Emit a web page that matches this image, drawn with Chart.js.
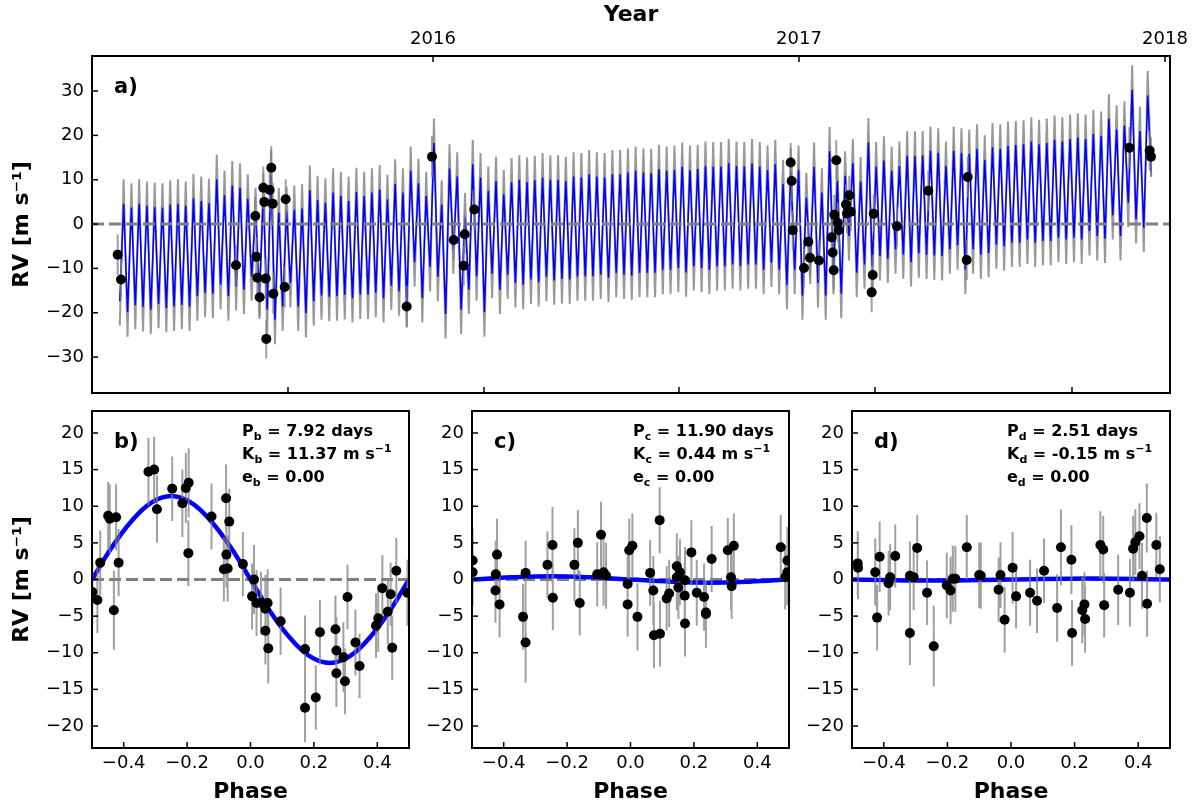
<!DOCTYPE html>
<html>
<head>
<meta charset="utf-8">
<script src="https://cdn.jsdelivr.net/npm/chart.js@4.4.0/dist/chart.umd.min.js"></script>
<style>
  body { margin: 0; background: #fff; }
  #wrap { position: relative; width: 1199px; height: 805px; background: #fff; }
  canvas { position: absolute; }
</style>
</head>
<body>
<div id="wrap">
  <canvas id="cA" width="1199" height="400" style="left:0px;top:0px"></canvas>
  <canvas id="cB" width="420" height="405" style="left:0px;top:400px"></canvas>
  <canvas id="cC" width="380" height="405" style="left:420px;top:400px"></canvas>
  <canvas id="cD" width="399" height="405" style="left:800px;top:400px"></canvas>
</div>
<script>
// ---- panel a) : RV time series (x in decimal years) ----
const yearMin = 2015.0683, yearMax = 2018.0137;
const yearTicks = [2016, 2017, 2018];
const timeTicks = [2015.6038, 2016.1393, 2016.6721, 2017.2077, 2017.7459]; // unlabeled bottom ticks
const rvTicksA = [-30, -20, -10, 0, 10, 20, 30];

const obsYear = [2015.1385, 2015.1475, 2015.4617, 2015.5145, 2015.5172, 2015.5200, 2015.5265, 2015.5364, 2015.5391, 2015.5429,
  2015.5445, 2015.5538, 2015.5582, 2015.5620, 2015.5637, 2015.5948, 2015.5975, 2015.9281, 2015.9973, 2016.0566,
  2016.0839, 2016.0866, 2016.1128, 2016.9773, 2016.9800, 2016.9828, 2017.0137, 2017.0254, 2017.0300, 2017.0546,
  2017.0893, 2017.0920, 2017.0948, 2017.0964, 2017.1019, 2017.1057, 2017.1085, 2017.1284, 2017.1311, 2017.1375,
  2017.1413, 2017.1986, 2017.2014, 2017.2041, 2017.2678, 2017.3533, 2017.4582, 2017.4609, 2017.9025, 2017.9582,
  2017.9617];
const obsRV = [-6.9, -12.5, -9.3, 1.8, -7.4, -12.1, -16.5, 8.2, 5.0, -12.3,
  -25.9, 7.7, 12.7, 4.6, -15.7, -14.2, 5.6, -18.6, 15.2, -3.6,
  -9.4, -2.3, 3.3, 13.9, 9.7, -1.4, -9.9, -4.0, -7.6, -8.2,
  -3.0, -6.4, -10.4, 2.1, 14.4, 0.3, -1.4, 4.4, 2.4, 6.5,
  2.8, -15.4, -11.5, 2.3, -0.5, 7.5, -8.1, 10.6, 17.2, 16.6,
  15.2];
const obsErr = [4.6, 4.4, 4.5, 4.3, 4.5, 4.6, 4.4, 4.8, 4.5, 4.4,
  4.4, 4.7, 4.9, 4.6, 4.5, 4.6, 4.5, 4.7, 4.6, 4.3,
  4.5, 4.4, 4.5, 4.4, 4.6, 4.5, 4.4, 4.5, 4.6, 4.5,
  4.4, 4.5, 4.6, 4.5, 4.5, 4.4, 4.5, 4.6, 4.5, 4.4,
  4.5, 4.5, 4.6, 4.4, 4.5, 4.6, 4.5, 4.6, 4.7, 4.5,
  4.4];

// model curve as drawn: sampled maxima / minima, evenly spaced in time
const modelStart = 2015.1548;   // first maximum
const modelStep = 0.021196;     // spacing between maxima (yr)
const modelPeaks = [4.6, 3.7, 4.6, 4.1, 3.8, 3.7, 4.4, 4.6, 4.1, 5.8, 5.2, 4.7, 10.1, 6.5, 8.7, 8.2, 5.7, 2.6, 6.0, 11.2,
  2.6, 2.9, 3.2, 3.5, 7.7, 5.4, 4.8, 7.1, 6.3, 5.2, 7.2,
  6.3, 7.1, 7.8, 5.6, 9.1, 7.1, 12.0, 9.2, 6.3, 18.3, 4.4, 12.5, 10.7, 1.5, 13.5, 10.5, 7.5, 9.7, 6.7, 9.4,
  10.0, 9.5, 9.9, 10.5, 10.0, 10.0, 9.7, 10.7, 10.5, 11.2, 10.7, 10.5, 11.2, 11.2, 11.6,
  12.0, 11.6, 11.5, 12.4, 12.0, 12.2, 12.9, 12.2, 12.4, 13.1, 13.0, 13.0, 13.7, 13.1, 13.0, 13.7, 13.0, 12.2,
  13.5, 9.0, 11.6, 12.2, 6.0, 12.9, 7.1, 16.4, 9.7, 10.9, 13.7, 9.6, 18.4, 13.0, 14.3, 12.0, 13.1,
  15.4, 15.4, 15.5, 16.5, 16.1, 13.1, 16.5, 16.1, 15.8, 17.0, 14.5, 17.3, 17.0, 17.6, 17.8, 18.0, 18.6, 18.0,
  18.3, 19.0, 18.6, 19.2, 19.5, 19.2, 20.3, 19.9, 23.8, 21.3, 22.2, 30.3, 21.0, 29.0];
const modelTroughs = [-17.4, -19.9, -18.3, -18.7, -19.3, -18.0, -18.9, -18.6, -18.2, -18.6, -16.3, -15.5, -15.7, -13.7,
  -16.3, -14.0, -14.8, -11.8, -15.9, -19.3, -21.6, -18.6, -13.3, -18.6, -20.1, -17.4, -16.1, -16.4, -16.3, -16.0, -16.7, -15.9,
  -15.9, -15.5, -16.7, -13.9, -15.2, -17.8, -8.6, -16.7, -9.7, -11.9, -20.3, -5.7, -19.3, -14.8, -11.8, -19.9, -11.2,
  -14.8, -11.4, -13.3, -13.7, -12.5, -13.1, -11.9, -12.7, -12.4, -12.5, -11.8, -11.8, -11.8, -11.4, -12.1, -11.0, -11.4, -11.6,
  -11.0, -11.0, -11.0, -10.3, -10.3, -9.9, -10.9, -9.5, -9.9, -10.3, -9.5, -9.5, -9.1, -9.5, -9.1, -9.1, -10.3,
  -8.7, -10.3, -13.7, -10.3, -16.1, -8.0, -13.3, -16.1, -10.3, -15.7, -2.7, -11.0, -9.1, -9.5, -7.2, -7.8, -5.7,
  -6.9, -8.6, -6.6, -6.9, -7.1, -7.2, -5.7, -4.8, -10.3, -5.7, -6.9, -6.5, -4.6, -5.0, -4.2, -4.2, -3.5, -4.2,
  -3.8, -3.8, -3.1, -3.5, -3.1, -3.5, -1.6, -2.7, -3.3, 2.0, -2.7, 4.8, 1.1, -0.8];
const modelEnd = { x: 2017.9626, y: 11.6 };
const modelErr = 5.5;  // extent of grey uncertainty at the extrema

// ---- panels b) c) d) : phase folded ----
const phaseTicks = [-0.4, -0.2, 0, 0.2, 0.4];
const rvTicksP = [-20, -15, -10, -5, 0, 5, 10, 15, 20];

const bPhase = [-0.499, -0.483, -0.474, -0.449, -0.444, -0.431, -0.424, -0.416, -0.322, -0.304,
  -0.295, -0.247, -0.215, -0.204, -0.195, -0.196, -0.123, -0.084, -0.077, -0.076,
  -0.072, -0.067, -0.024, 0.011, 0.005, 0.019, 0.033, 0.047, 0.054, 0.047,
  0.056, 0.095, 0.172, 0.172, 0.206, 0.219, 0.268, 0.271, 0.271, 0.293,
  0.298, 0.306, 0.331, 0.344, 0.396, 0.403, 0.416, 0.433, 0.442, 0.447,
  0.460, 0.495];
const bRV = [-1.7, -2.8, 2.3, 8.7, 8.3, -4.2, 8.5, 2.3, 14.7, 15.0,
  9.6, 12.4, 10.4, 12.5, 13.2, 3.6, 8.6, 1.4, 11.1, 3.4,
  1.5, 7.9, 2.1, 0.0, -2.3, -3.2, -3.2, -4.0, -3.2, -7.0,
  -9.4, -5.7, -9.5, -17.5, -16.1, -7.2, -6.8, -9.7, -12.8, -10.6,
  -13.9, -2.4, -8.6, -11.8, -6.3, -5.3, -1.2, -4.4, -2.0, -9.3,
  1.2, -1.8];
const bErr = [4.4, 4.5, 4.4, 4.6, 4.7, 5.4, 4.5, 4.6, 4.6, 4.5,
  4.6, 4.4, 4.6, 4.8, 4.7, 4.5, 4.5, 4.4, 4.6, 4.5,
  4.5, 4.5, 4.4, 4.7, 4.5, 4.5, 4.3, 4.6, 4.6, 4.6,
  4.8, 4.6, 4.6, 4.7, 4.4, 4.4, 4.6, 4.6, 4.6, 4.8,
  4.5, 4.4, 4.5, 4.4, 4.4, 4.6, 4.5, 4.4, 4.3, 4.4,
  4.5, 4.5];
const bCurveX = [-0.5, -0.4375, -0.375, -0.3125, -0.25, -0.1875, -0.125, -0.0625, 0, 0.0625, 0.125, 0.1875, 0.25, 0.3125, 0.375, 0.4375, 0.5];
const bCurveY = [0, 4.4, 8.0, 10.5, 11.4, 10.5, 8.0, 4.4, 0, -4.4, -8.0, -10.5, -11.4, -10.5, -8.0, -4.4, 0];

const cPhase = [-0.498, -0.498, -0.425, -0.421, -0.426, -0.413, -0.339, -0.331, -0.331, -0.262,
  -0.246, -0.245, -0.177, -0.166, -0.160, -0.105, -0.093, -0.085, -0.077, -0.009,
  -0.009, -0.004, 0.006, 0.022, 0.062, 0.072, 0.074, 0.092, 0.093, 0.114,
  0.122, 0.146, 0.146, 0.151, 0.156, 0.172, 0.171, 0.172, 0.192, 0.209,
  0.232, 0.238, 0.238, 0.256, 0.307, 0.317, 0.326, 0.319, 0.474, 0.488,
  0.495, 0.495];
const cRV = [2.6, 1.0, 0.7, 3.4, -1.5, -3.4, -5.1, -8.6, 0.9, 2.0,
  4.7, -2.5, 2.0, 5.0, -3.2, 0.7, 6.1, 1.0, 0.5, -0.6,
  -3.4, 4.0, 4.6, -5.1, 0.9, -1.5, -7.6, 8.1, -7.4, -2.6,
  -1.9, 1.8, 0.3, -1.1, 1.0, -0.1, -2.2, -6.0, 3.7, -1.8,
  -2.4, -4.5, -4.7, 2.8, 4.0, 0.3, 4.6, -0.9, 4.4, 0.3,
  2.6, 1.0];
const cErr = [4.5, 4.5, 4.6, 4.9, 4.4, 4.5, 4.5, 5.5, 4.4, 4.6,
  5.2, 4.4, 5.0, 4.5, 4.4, 4.4, 4.5, 4.6, 4.5, 4.4,
  4.4, 4.3, 4.4, 4.6, 4.5, 4.7, 4.5, 4.5, 4.5, 4.4,
  4.6, 4.5, 4.5, 4.3, 4.5, 4.5, 4.6, 4.5, 4.4, 4.5,
  4.6, 4.3, 4.6, 4.5, 4.4, 4.5, 4.4, 4.5, 4.4, 4.4,
  4.6, 4.5];
const cCurveX = [-0.5, -0.375, -0.25, -0.125, 0, 0.125, 0.25, 0.375, 0.5];
const cCurveY = [0, 0.3, 0.44, 0.3, 0, -0.3, -0.44, -0.3, 0];

const dPhase = [-0.482, -0.481, -0.427, -0.421, -0.413, -0.385, -0.380, -0.364, -0.318, -0.318,
  -0.306, -0.295, -0.264, -0.243, -0.202, -0.190, -0.183, -0.175, -0.139, -0.100,
  -0.095, -0.039, -0.033, -0.020, 0.005, 0.016, 0.060, 0.082, 0.104, 0.145,
  0.157, 0.190, 0.192, 0.224, 0.231, 0.233, 0.281, 0.290, 0.293, 0.337,
  0.374, 0.384, 0.391, 0.404, 0.412, 0.427, 0.428, 0.457, 0.468];
const dRV = [2.2, 1.6, 1.0, -5.2, 3.1, -0.5, 0.3, 3.2, 0.5, -7.3,
  0.3, 4.3, -1.8, -9.1, -0.8, -1.5, 0.1, 0.1, 4.4, 0.6,
  0.5, -1.4, 0.6, -5.5, 1.6, -2.3, -1.8, -2.9, 1.2, -3.9,
  4.4, 2.7, -7.3, -4.2, -3.4, -5.4, 4.7, 4.1, -3.5, -1.4,
  -1.8, 4.2, 5.1, 5.9, 0.5, 8.4, -3.3, 4.7, 1.4];
const dErr = [4.4, 4.3, 4.6, 4.5, 4.8, 4.4, 4.5, 4.3, 4.7, 4.4,
  4.5, 4.5, 4.4, 5.5, 4.5, 4.6, 4.5, 4.5, 4.4, 4.5,
  4.5, 4.4, 4.5, 4.5, 4.9, 4.4, 4.5, 4.4, 4.4, 4.6,
  5.2, 4.7, 4.5, 4.5, 4.4, 4.6, 4.6, 4.6, 4.4, 4.8,
  4.6, 4.5, 4.5, 4.5, 4.5, 4.7, 4.5, 4.4, 4.5];
const dCurveX = [-0.5, -0.25, 0, 0.25, 0.5];
const dCurveY = [0, -0.15, 0, 0.15, 0];

// ---------------------------------------------------------------
Chart.defaults.font.family = "'DejaVu Sans', sans-serif";
Chart.defaults.font.size = 18;
Chart.defaults.color = '#000';
Chart.defaults.animation = false;
Chart.defaults.plugins.legend.display = false;
Chart.defaults.plugins.tooltip.enabled = false;

const MINUS = '\u2212';
const fmtInt = v => (v < 0 ? MINUS : '') + Math.abs(v);
const fmtPhase = v => (v < 0 ? MINUS : '') + Math.abs(v).toFixed(1);
const yTitle = 'RV [m s\u207B\u00B9]';
const errGrey = 'rgba(128,128,128,0.75)';

const pts = (xs, ys) => xs.map((x, i) => ({ x, y: ys[i] }));

// vertical error bars as broken line segments
function errSegments(xs, ys, es) {
  const out = [];
  xs.forEach((x, i) => {
    out.push({ x, y: ys[i] - es[i] }, { x, y: ys[i] + es[i] }, { x, y: null });
  });
  return out;
}

// frame and inward tick marks, matplotlib style
const frame = ids => ({
  id: 'frame',
  afterDatasetsDraw(chart) {
    const { ctx, chartArea: a, scales } = chart;
    ctx.save();
    ctx.strokeStyle = '#000';
    ctx.lineWidth = 1.5;
    ids.forEach(id => {
      const s = scales[id];
      s.ticks.forEach(t => {
        const p = s.getPixelForValue(t.value);
        ctx.beginPath();
        if (s.isHorizontal()) {
          const top = s.position === 'top';
          const y0 = top ? a.top : a.bottom;
          ctx.moveTo(p, y0);
          ctx.lineTo(p, y0 + (top ? 6 : -6));
        } else {
          ctx.moveTo(a.left, p);
          ctx.lineTo(a.left + 6, p);
        }
        ctx.stroke();
      });
    });
    ctx.lineWidth = 2;
    ctx.strokeRect(a.left, a.top, a.width, a.height);
    ctx.restore();
  }
});

// panel letter + parameter text (with sub/superscripts)
const panelText = (label, lines, dx) => ({
  id: 'panelText',
  afterDraw(chart) {
    const { ctx, chartArea: a } = chart;
    ctx.save();
    ctx.fillStyle = '#000';
    ctx.textBaseline = 'middle';
    ctx.textAlign = 'left';
    ctx.font = "bold 21px 'DejaVu Sans'";
    ctx.fillText(label, a.left + 22, a.top + 32);
    lines.forEach((parts, k) => {
      let x = a.left + dx;
      const y = a.top + 21 + k * 23;
      parts.forEach(([t, s]) => {
        ctx.font = s === 'n' ? "bold 16px 'DejaVu Sans'" : "bold 11px 'DejaVu Sans'";
        const dy = s === 'sub' ? 5 : (s === 'sup' ? -6 : 0);
        ctx.fillText(t, x, y + dy);
        x += ctx.measureText(t).width;
      });
    });
    ctx.restore();
  }
});

const fixTicks = vals => s => { s.ticks = vals.map(v => ({ value: v })); };
// fixed axis thickness, no extra label overflow padding
const fixV = w => s => { s.width = w; s.paddingTop = 0; s.paddingBottom = 0; };
const fixH = h => s => { s.height = h; s.paddingLeft = 0; s.paddingRight = 0; };

// ---- panel a ----
const modelPts = [];
const modelGrey = [];
modelPeaks.forEach((p, i) => {
  const tT = modelStart + (i - 0.5) * modelStep;
  const tP = modelStart + i * modelStep;
  modelPts.push({ x: tT, y: modelTroughs[i] }, { x: tP, y: p });
  modelGrey.push({ x: tT, y: modelTroughs[i] - modelErr }, { x: tP, y: p + modelErr });
});
modelPts.push(modelEnd);
modelGrey.push({ x: modelEnd.x, y: modelEnd.y - 1 });

new Chart(document.getElementById('cA'), {
  type: 'scatter',
  data: {
    datasets: [
      { data: pts(obsYear, obsRV), pointRadius: 5, pointBackgroundColor: '#000', pointBorderWidth: 0, order: 0, clip: 0 },
      { data: errSegments(obsYear, obsRV, obsErr), showLine: true, pointRadius: 0, borderColor: errGrey, borderWidth: 2, order: 1, clip: 0 },
      { data: [{ x: yearMin, y: 0 }, { x: yearMax, y: 0 }], showLine: true, pointRadius: 0, borderColor: '#808080', borderWidth: 3, borderDash: [12, 5], order: 2, clip: 0 },
      { data: modelPts, showLine: true, pointRadius: 0, borderColor: '#0000ff', borderWidth: 1.5, order: 3, clip: 0 },
      { data: modelGrey, showLine: true, pointRadius: 0, borderColor: 'rgba(128,128,128,0.8)', borderWidth: 2, order: 4, clip: 0 }
    ]
  },
  options: {
    responsive: false,
    devicePixelRatio: 1,
    layout: { padding: { left: 0, right: 29, top: 0, bottom: 0 } },
    scales: {
      x: {
        type: 'linear', position: 'bottom', min: yearMin, max: yearMax,
        grid: { display: false, drawTicks: false }, border: { display: false },
        ticks: { display: false },
        afterBuildTicks: fixTicks(timeTicks),
        afterFit: fixH(7)
      },
      xTop: {
        type: 'linear', position: 'top', min: yearMin, max: yearMax,
        grid: { display: false, drawTicks: false }, border: { display: false },
        ticks: { padding: 6, maxRotation: 0, callback: v => String(v) },
        title: { display: true, text: 'Year', font: { size: 22, weight: 'bold' }, padding: { top: 2, bottom: 0 } },
        afterBuildTicks: fixTicks(yearTicks),
        afterFit: fixH(56)
      },
      y: {
        type: 'linear', min: -38.1, max: 37.9,
        grid: { display: false, drawTicks: false }, border: { display: false },
        ticks: { padding: 8, callback: fmtInt },
        title: { display: true, text: yTitle, font: { size: 22, weight: 'bold' }, padding: { top: 9, bottom: 0 } },
        afterBuildTicks: fixTicks(rvTicksA),
        afterFit: fixV(92)
      }
    }
  },
  plugins: [frame(['x', 'xTop', 'y']), panelText('a)', [], 0)]
});

// ---- panels b, c, d ----
function phasePanel(id, p) {
  new Chart(document.getElementById(id), {
    type: 'scatter',
    data: {
      datasets: [
        { data: pts(p.phase, p.rv), pointRadius: 5, pointBackgroundColor: '#000', pointBorderWidth: 0, order: 0, clip: 0 },
        { data: errSegments(p.phase, p.rv, p.err), showLine: true, pointRadius: 0, borderColor: errGrey, borderWidth: 2, order: 1, clip: 0 },
        { data: pts(p.cx, p.cy), showLine: true, pointRadius: 0, borderColor: '#0000ff', borderWidth: 4.5, tension: 0.4, order: 2, clip: 0 },
        { data: [{ x: -0.5, y: 0 }, { x: 0.5, y: 0 }], showLine: true, pointRadius: 0, borderColor: '#808080', borderWidth: 3, borderDash: [12, 5], order: 3, clip: 0 }
      ]
    },
    options: {
      responsive: false,
      devicePixelRatio: 1,
      layout: { padding: { left: 0, right: p.padRight, top: 11, bottom: 0 } },
      scales: {
        x: {
          type: 'linear', min: -0.5, max: 0.5,
          grid: { display: false, drawTicks: false }, border: { display: false },
          ticks: { padding: 5, maxRotation: 0, callback: fmtPhase },
          title: { display: true, text: 'Phase', font: { size: 22, weight: 'bold' }, padding: { top: 0, bottom: 0 } },
          afterBuildTicks: fixTicks(phaseTicks),
          afterFit: fixH(57)
        },
        y: {
          type: 'linear', min: -23, max: 23,
          grid: { display: false, drawTicks: false }, border: { display: false },
          ticks: { padding: 8, callback: fmtInt },
          title: { display: p.showTitle, text: yTitle, font: { size: 22, weight: 'bold' }, padding: { top: 9, bottom: 0 } },
          afterBuildTicks: fixTicks(rvTicksP),
          afterFit: fixV(p.yWidth)
        }
      }
    },
    plugins: [frame(['x', 'y']), panelText(p.label, p.lines, p.dx)]
  });
}

phasePanel('cB', {
  phase: bPhase, rv: bRV, err: bErr, cx: bCurveX, cy: bCurveY,
  label: 'b)', dx: 150, yWidth: 92, padRight: 11, showTitle: true,
  lines: [
    [['P', 'n'], ['b', 'sub'], [' = 7.92 days', 'n']],
    [['K', 'n'], ['b', 'sub'], [' = 11.37 m s', 'n'], [MINUS + '1', 'sup']],
    [['e', 'n'], ['b', 'sub'], [' = 0.00', 'n']]
  ]
});
phasePanel('cC', {
  phase: cPhase, rv: cRV, err: cErr, cx: cCurveX, cy: cCurveY,
  label: 'c)', dx: 161, yWidth: 52, padRight: 11, showTitle: false,
  lines: [
    [['P', 'n'], ['c', 'sub'], [' = 11.90 days', 'n']],
    [['K', 'n'], ['c', 'sub'], [' = 0.44 m s', 'n'], [MINUS + '1', 'sup']],
    [['e', 'n'], ['c', 'sub'], [' = 0.00', 'n']]
  ]
});
phasePanel('cD', {
  phase: dPhase, rv: dRV, err: dErr, cx: dCurveX, cy: dCurveY,
  label: 'd)', dx: 155, yWidth: 52, padRight: 29, showTitle: false,
  lines: [
    [['P', 'n'], ['d', 'sub'], [' = 2.51 days', 'n']],
    [['K', 'n'], ['d', 'sub'], [' = -0.15 m s', 'n'], [MINUS + '1', 'sup']],
    [['e', 'n'], ['d', 'sub'], [' = 0.00', 'n']]
  ]
});
</script>
</body>
</html>
